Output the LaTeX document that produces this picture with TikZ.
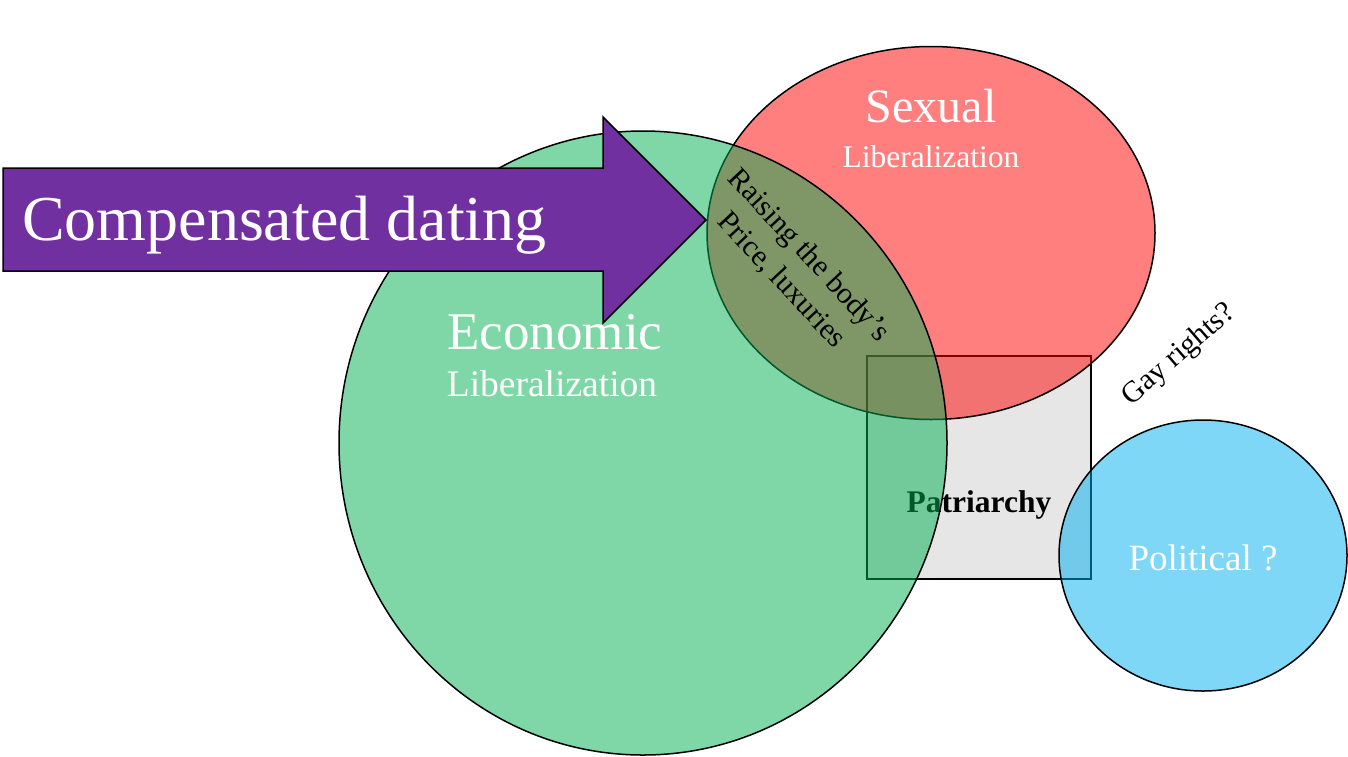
\documentclass[tikz,border=0pt]{standalone}
\usepackage{fontspec}
\setmainfont{Liberation Serif}
\usetikzlibrary{shapes.geometric}
\definecolor{vgreen}{HTML}{00B050}
\definecolor{vred}{HTML}{FF0000}
\definecolor{vblue}{HTML}{00B0F0}
\definecolor{boxgray}{HTML}{E6E6E6}
\definecolor{arrowpurple}{HTML}{7030A0}
\tikzset{
  venn/.style={ellipse, draw=black, line width=1.5pt, inner sep=0pt, fill opacity=0.5, draw opacity=1},
  wlbl/.style={text=white, inner sep=0pt, anchor=base},
}
\newcommand{\fs}[1]{\fontsize{#1}{#1}\selectfont}
\begin{document}
\begin{tikzpicture}[x=1pt,y=1pt]
\useasboundingbox (0,0) rectangle (1348,-756);
% Patriarchy box
\node[draw=black, fill=boxgray, line width=1.5pt, minimum width=224pt, minimum height=223pt, inner sep=0pt] (patr) at (979,-467.5) {};
\node[inner sep=0pt, anchor=base] (patrtext) at (979,-512) {\fs{31.5}\bfseries Patriarchy};
% circles
\node[venn, fill=vred, minimum width=448pt, minimum height=373pt] (sexual) at (931,-233) {};
\node[venn, fill=vgreen, minimum width=608pt, minimum height=624pt] (economic) at (643,-443) {};
\node[venn, fill=vblue, minimum width=288pt, minimum height=271pt] (political) at (1203,-555.5) {};
% arrow
\draw[fill=arrowpurple, line width=1.5pt, line join=miter]
  (3,-168) -- (603,-168) -- (603,-117) -- (706,-220) -- (603,-323) -- (603,-271) -- (3,-271) -- cycle;
\node[text=white, inner sep=0pt, anchor=base west] (comp) at (22,-240) {\fs{64}Compensated dating};
% labels
\node[wlbl] (sexlbl) at (931,-122) {\fs{48}Sexual};
\node[wlbl] (sexlib) at (931,-167) {\fs{31.5}Liberalization};
\node[wlbl] (ecolbl) at (555,-349) {\fs{53}Economic};
\node[wlbl] (ecolib) at (552,-396) {\fs{37.5}Liberalization};
\node[wlbl] (pollbl) at (1203,-570) {\fs{37}Political ?};
\node[inner sep=0pt, rotate=41] (gay) at (1179,-355) {\fs{30}Gay rights?};
\node[inner sep=0pt, rotate=-47, align=center, font=\fontsize{30}{37}\selectfont] (raise) at (795,-268) {Raising the body’s\\Price, luxuries};
\end{tikzpicture}
\end{document}
